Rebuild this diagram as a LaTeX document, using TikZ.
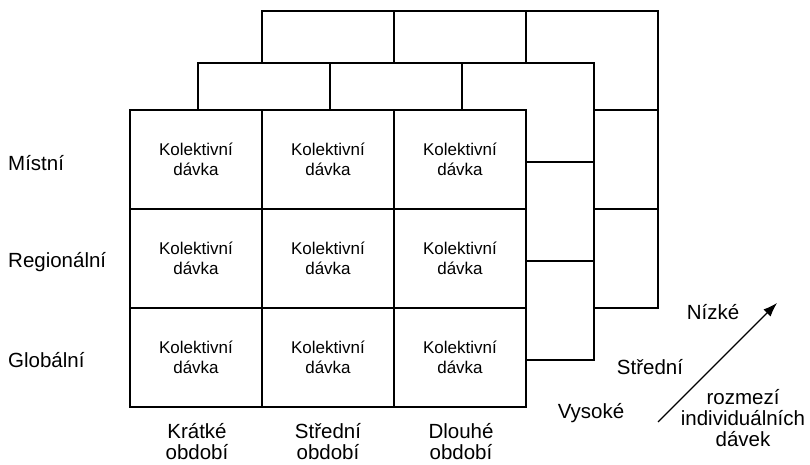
\documentclass[tikz,border=0pt]{standalone}
\usepackage{fontspec}
\setmainfont{Liberation Sans}
\usetikzlibrary{arrows.meta}

\begin{document}
\begin{tikzpicture}[x=1pt, y=-1pt]
\tikzstyle{cell} = [draw=black, fill=white, line width=2.8pt, inner sep=0pt,
  minimum width=132pt, minimum height=99pt, align=center, text depth=-6pt,
  font=\fontsize{17}{20}\selectfont]
\tikzstyle{lab} = [align=center, inner sep=0pt, font=\fontsize{20.5}{21}\selectfont]

\useasboundingbox (0,0) rectangle (810,465);

% back layer
\node[cell] (B11) at (328, 60.5) {};
\node[cell] (B12) at (460, 60.5) {};
\node[cell] (B13) at (592, 60.5) {};
\node[cell] (B23) at (592, 159.5) {};
\node[cell] (B33) at (592, 258.5) {};

% middle layer
\node[cell] (M11) at (264, 112.5) {};
\node[cell] (M12) at (396, 112.5) {};
\node[cell] (M13) at (528, 112.5) {};
\node[cell] (M23) at (528, 211.5) {};
\node[cell] (M33) at (528, 310.5) {};

% front layer
\node[cell] (F11) at (196, 159.5) {Kolektivní\\dávka};
\node[cell] (F12) at (328, 159.5) {Kolektivní\\dávka};
\node[cell] (F13) at (460, 159.5) {Kolektivní\\dávka};
\node[cell] (F21) at (196, 258.5) {Kolektivní\\dávka};
\node[cell] (F22) at (328, 258.5) {Kolektivní\\dávka};
\node[cell] (F23) at (460, 258.5) {Kolektivní\\dávka};
\node[cell] (F31) at (196, 357.5) {Kolektivní\\dávka};
\node[cell] (F32) at (328, 357.5) {Kolektivní\\dávka};
\node[cell] (F33) at (460, 357.5) {Kolektivní\\dávka};

% rows
\node[lab, anchor=west] (mistni) at (8, 163) {Místní};
\node[lab, anchor=west] (regio) at (8, 262) {Regionální};
\node[lab, anchor=west] (glob) at (8, 360) {Globální};

% columns
\node[lab] (kratke) at (197, 442) {Krátké\\období};
\node[lab] (stredni) at (328, 442) {Střední\\období};
\node[lab] (dlouhe) at (461, 442) {Dlouhé\\období};

% layers
\node[lab] (vysoke) at (591, 413) {Vysoké};
\node[lab] (stred) at (650, 367) {Střední};
\node[lab] (nizke) at (713, 312) {Nízké};
\node[lab] (rozmezi) at (743, 418) {rozmezí\\individuálních\\dávek};

\coordinate (a0) at (658, 422);
\coordinate (a1) at (777, 303);
\draw[-{Latex[length=14pt, width=10pt]}, line width=1.1pt] (a0) -- (a1);
\end{tikzpicture}
\end{document}
